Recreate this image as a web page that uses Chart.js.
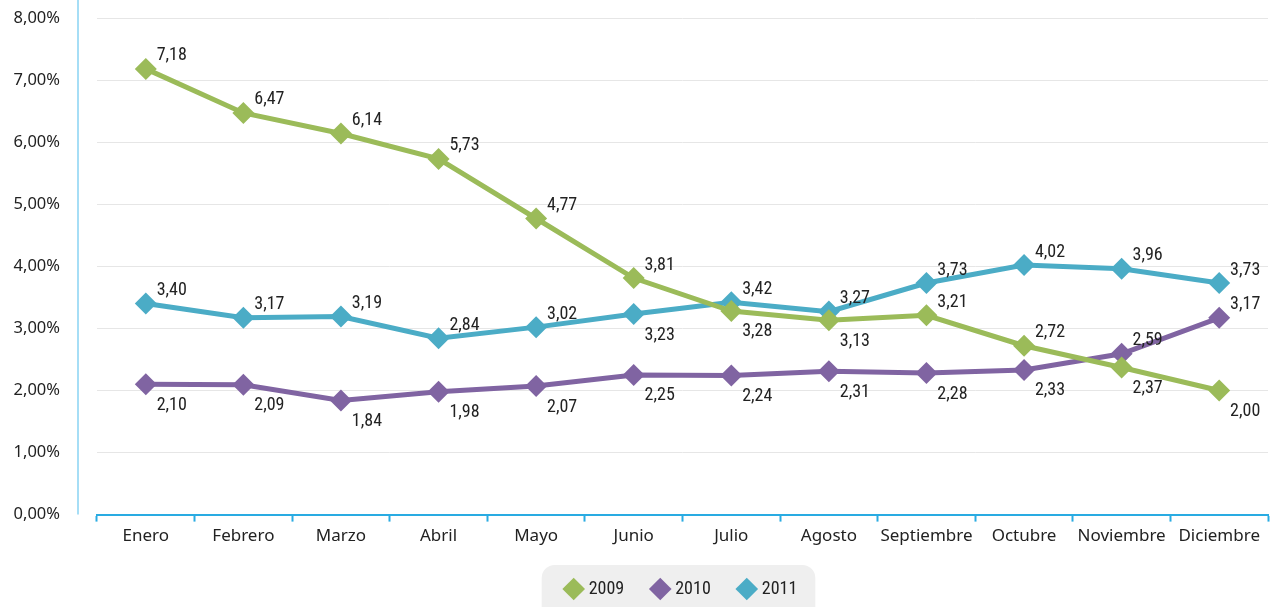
<!DOCTYPE html>
<html>
<head>
<meta charset="utf-8">
<script src="https://cdn.jsdelivr.net/npm/chart.js@4.4.1/dist/chart.umd.min.js"></script>
<style>
  html, body { margin: 0; padding: 0; background: #fff; }
  #wrap { width: 1272px; height: 607px; }
</style>
</head>
<body>
<div id="wrap"><canvas id="report" width="1272" height="607"></canvas></div>
<script>
const meses = ['Enero', 'Febrero', 'Marzo', 'Abril', 'Mayo', 'Junio', 'Julio', 'Agosto', 'Septiembre', 'Octubre', 'Noviembre', 'Diciembre'];
const datos2009 = [7.18, 6.47, 6.14, 5.73, 4.77, 3.81, 3.28, 3.13, 3.21, 2.72, 2.37, 2.00];
const datos2010 = [2.10, 2.09, 1.84, 1.98, 2.07, 2.25, 2.24, 2.31, 2.28, 2.33, 2.59, 3.17];
const datos2011 = [3.40, 3.17, 3.19, 2.84, 3.02, 3.23, 3.42, 3.27, 3.73, 4.02, 3.96, 3.73];
// donde va cada etiqueta: 'a' arriba, 'b' abajo
const pos2009 = ['a', 'a', 'a', 'a', 'a', 'a', 'b', 'b', 'a', 'a', 'b', 'b'];
const pos2010 = ['b', 'b', 'b', 'b', 'b', 'b', 'b', 'b', 'b', 'b', 'a', 'a'];
const pos2011 = ['a', 'a', 'a', 'a', 'a', 'b', 'a', 'a', 'a', 'a', 'a', 'a'];

const fmt = v => v.toFixed(2).replace('.', ',');
const fuenteAngosta = '"Liberation Sans Narrow", "Roboto Condensed", sans-serif';

// etiquetas de valor junto a cada punto
const etiquetas = {
    id: 'etiquetas',
    afterDatasetsDraw(chart) {
        const ctx = chart.ctx;
        ctx.save();
        ctx.font = '18px ' + fuenteAngosta;
        ctx.fillStyle = '#222';
        ctx.textAlign = 'center';
        ctx.textBaseline = 'middle';
        chart.data.datasets.forEach((ds, i) => {
            const meta = chart.getDatasetMeta(i);
            meta.data.forEach((pt, j) => {
                const arriba = ds.posiciones[j] === 'a';
                ctx.fillText(fmt(ds.data[j]), pt.x + 26, pt.y + (arriba ? -13 : 21));
            });
        });
        ctx.restore();
    }
};

// linea vertical celeste, leyenda centrada en el area y su fondo
const decoracion = {
    id: 'decoracion',
    afterLayout(chart) {
        const lg = chart.legend;
        const area = chart.chartArea;
        if (lg) {
            lg.left = area.left;
            lg.right = area.right;
            lg.width = area.right - area.left;
        }
    },
    beforeDraw(chart) {
        const ctx = chart.ctx;
        const area = chart.chartArea;
        ctx.save();
        ctx.strokeStyle = '#a6def6';
        ctx.lineWidth = 2;
        ctx.beginPath();
        ctx.moveTo(area.left - 19, 0);
        ctx.lineTo(area.left - 19, area.bottom);
        ctx.stroke();

        const lg = chart.legend;
        if (lg && lg.legendHitBoxes.length) {
            const boxes = lg.legendHitBoxes;
            const x0 = boxes[0].left - 26;
            const last = boxes[boxes.length - 1];
            const x1 = last.left + last.width + 18;
            const y0 = 565;
            ctx.fillStyle = '#efefef';
            ctx.beginPath();
            ctx.roundRect(x0, y0, x1 - x0, chart.height + 12 - y0, 13);
            ctx.fill();
        }
        ctx.restore();
    }
};

const serie = (label, data, color, posiciones) => ({
    label: label,
    data: data,
    posiciones: posiciones,
    borderColor: color,
    backgroundColor: color,
    borderWidth: 5,
    pointStyle: 'rectRot',
    pointRadius: 11,
    pointHoverRadius: 11,
    pointBorderWidth: 0,
    tension: 0
});

const ctx = document.getElementById('report').getContext('2d');
new Chart(ctx, {
    type: 'line',
    data: {
        labels: meses,
        datasets: [
            serie('2009', datos2009, '#9bbb59', pos2009),
            serie('2010', datos2010, '#8064a2', pos2010),
            serie('2011', datos2011, '#4bacc6', pos2011)
        ]
    },
    options: {
        responsive: false,
        animation: false,
        layout: { autoPadding: false, padding: { top: 18, right: 4, left: 0, bottom: -1 } },
        plugins: {
            tooltip: { enabled: false },
            legend: {
                position: 'bottom',
                labels: {
                    usePointStyle: true,
                    pointStyle: 'rectRot',
                    boxWidth: 12,
                    boxHeight: 16,
                    padding: 30,
                    color: '#222',
                    font: { family: fuenteAngosta, size: 18 }
                }
            }
        },
        scales: {
            x: {
                offset: true,
                afterFit(scale) {
                    scale.paddingLeft = 0;
                    scale.paddingRight = 0;
                },
                grid: {
                    offset: true,
                    drawOnChartArea: false,
                    drawTicks: true,
                    tickLength: 7,
                    tickWidth: 2,
                    color: '#29abe2'
                },
                border: { color: '#29abe2', width: 2 },
                ticks: {
                    color: '#222',
                    padding: 4,
                    maxRotation: 0,
                    autoSkip: false,
                    font: { family: '"Noto Sans", sans-serif', size: 17 }
                }
            },
            y: {
                min: 0,
                max: 8,
                afterFit(scale) {
                    scale.width = 97;
                    scale.paddingTop = 10;
                    scale.paddingBottom = 10;
                },
                ticks: {
                    stepSize: 1,
                    padding: 37,
                    color: '#222',
                    font: { family: '"Noto Sans", sans-serif', size: 16.5 },
                    callback: v => fmt(v) + '%'
                },
                grid: { color: '#e6e6e6', drawTicks: false },
                border: { display: false }
            }
        }
    },
    plugins: [decoracion, etiquetas]
});
</script>
</body>
</html>
